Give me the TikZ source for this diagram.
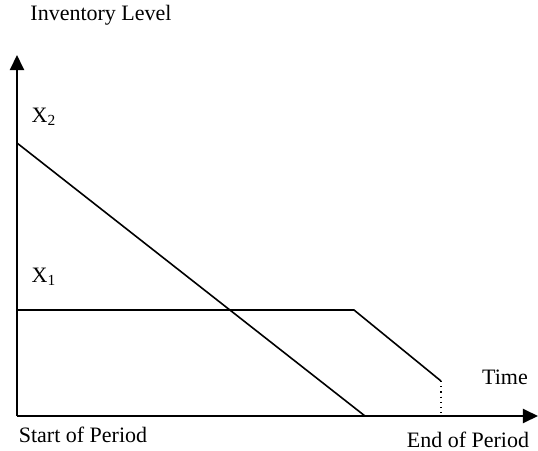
\documentclass[tikz,border=0pt]{standalone}
\usepackage{fontspec}
\setmainfont{Liberation Serif}
\usetikzlibrary{arrows.meta}

\tikzset{
    axis/.style={line width=1pt,-{Triangle[length=7.5pt,width=7pt]}},
    level/.style={line width=0.8pt},
    lbl/.style={font=\fontsize{11}{13}\selectfont,inner sep=0pt}
}

\begin{document}
\begin{tikzpicture}[x=0.5pt,y=-0.5pt]
    \useasboundingbox (0,0) rectangle (538,451);
    % axes
    \coordinate (o) at (17,416);
    \coordinate (ytop) at (17,55);
    \coordinate (xend) at (538,416);
    \draw[axis] (o) -- (ytop);
    \draw[axis] (o) -- (xend);
    % inventory paths
    \coordinate (x2start) at (17,143);
    \coordinate (x2end) at (365,416);
    \coordinate (x1start) at (17,310);
    \coordinate (x1kink) at (354,310);
    \coordinate (x1end) at (441,381);
    \coordinate (x1foot) at (441,416);
    \draw[level] (x2start) -- (x2end);
    \draw[level] (x1start) -- (x1kink) -- (x1end);
    \draw[dotted,line width=0.6pt] (x1end) -- (x1foot);
    % labels
    \node[lbl] (ylabel) at (101,15) {Inventory Level};
    \node[lbl] (x2lbl) at (44,117) {X\textsubscript{2}};
    \node[lbl] (x1lbl) at (44,277) {X\textsubscript{1}};
    \node[lbl] (timelbl) at (505,377) {Time};
    \node[lbl] (startlbl) at (83,435) {Start of Period};
    \node[lbl] (endlbl) at (468,440) {End of Period};
\end{tikzpicture}
\end{document}
